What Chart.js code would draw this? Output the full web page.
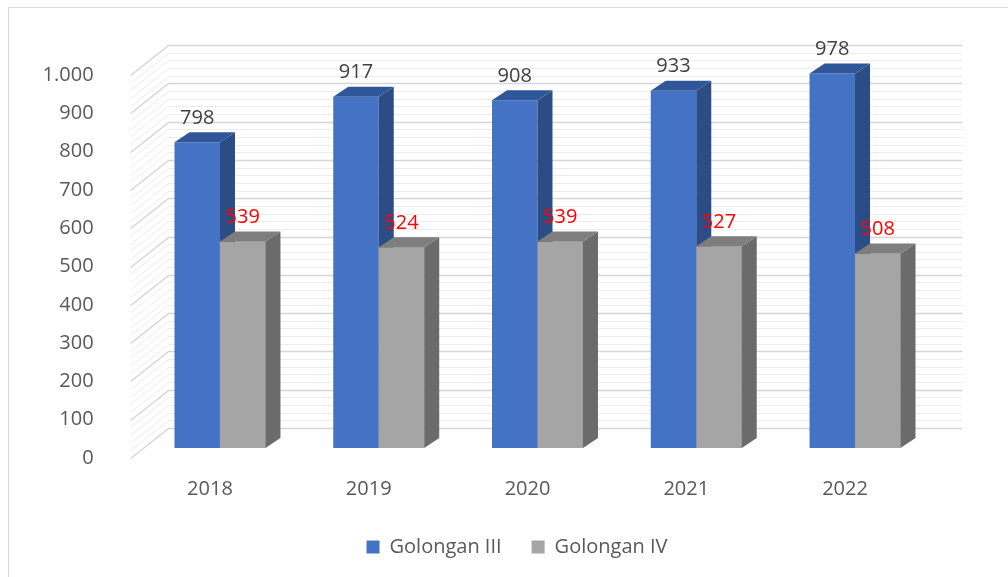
<!DOCTYPE html>
<html>
<head>
<meta charset="utf-8">
<script src="https://cdn.jsdelivr.net/npm/chart.js@4/dist/chart.umd.min.js"></script>
<style>
  body { margin: 0; background: #fff; overflow: hidden; }
  #frame { position: absolute; left: 8px; top: 7px; width: 1010px; height: 580px; border: 1px solid #d9d9d9; box-sizing: border-box; }
  #wrap { position: absolute; left: 0; top: 0; width: 1008px; height: 577px; }
</style>
</head>
<body>
<div id="frame"></div>
<div id="wrap"><canvas id="graph1"></canvas></div>
<script>
// data
const years = ['2018', '2019', '2020', '2021', '2022'];
const golonganIII = [798, 917, 908, 933, 978];
const golonganIV = [539, 524, 539, 527, 508];
const yTicks = [0, 100, 200, 300, 400, 500, 600, 700, 800, 900, 1000];

// 3d look
const WALL_DX = 38, WALL_DY = -30;   // back wall depth
const BAR_DX = 10, BAR_DY = -10;     // where bars stand in depth
const SIDE_DX = 15, SIDE_DY = -10;   // bar thickness
const faces = [
  { side: '#2c4c85', top: '#30569a' },
  { side: '#6b6b6b', top: '#7e7e7e' }
];
const labelColors = ['#404040', '#ff0000'];

function fmt(v) {
  return v >= 1000 ? Math.floor(v / 1000) + '.' + String(v % 1000).padStart(3, '0') : String(v);
}

function drawFaces(ctx, bar, f) {
  const p = bar.getProps(['x', 'y', 'base', 'width'], true);
  const l = p.x - p.width / 2, r = p.x + p.width / 2;
  ctx.fillStyle = f.side;
  ctx.beginPath();
  ctx.moveTo(r, p.y); ctx.lineTo(r + SIDE_DX, p.y + SIDE_DY);
  ctx.lineTo(r + SIDE_DX, p.base + SIDE_DY); ctx.lineTo(r, p.base);
  ctx.closePath(); ctx.fill();
  ctx.fillStyle = f.top;
  ctx.beginPath();
  ctx.moveTo(l, p.y); ctx.lineTo(l + SIDE_DX, p.y + SIDE_DY);
  ctx.lineTo(r + SIDE_DX, p.y + SIDE_DY); ctx.lineTo(r, p.y);
  ctx.closePath(); ctx.fill();
}

const walls = {
  id: 'walls',
  beforeDatasetsDraw(chart) {
    const ctx = chart.ctx, y = chart.scales.y, a = chart.chartArea;
    ctx.save();
    for (let v = 0; v <= 1000; v += 20) {
      const py = Math.round(y.getPixelForValue(v)) + 0.5;
      const major = v % 100 === 0;
      ctx.strokeStyle = major ? '#d6d6d6' : '#ececec';
      ctx.lineWidth = major ? 1.5 : 1;
      ctx.beginPath();
      ctx.moveTo(a.left, py);
      ctx.lineTo(a.left + WALL_DX, py + WALL_DY);
      ctx.lineTo(a.right + WALL_DX, py + WALL_DY);
      ctx.stroke();
    }
    ctx.restore();
    ctx.save();
    ctx.translate(BAR_DX, BAR_DY);
  },
  afterDatasetsDraw(chart) {
    const ctx = chart.ctx;
    const m0 = chart.getDatasetMeta(0), m1 = chart.getDatasetMeta(1);
    years.forEach((y, j) => {
      drawFaces(ctx, m0.data[j], faces[0]);
      m1.data[j].draw(ctx);
      drawFaces(ctx, m1.data[j], faces[1]);
    });
    ctx.restore();

    ctx.save();
    ctx.font = '20px "Open Sans"';
    ctx.textAlign = 'center';
    ctx.textBaseline = 'middle';
    chart.data.datasets.forEach((ds, i) => {
      chart.getDatasetMeta(i).data.forEach((bar, j) => {
        ctx.fillStyle = labelColors[i];
        ctx.fillText(ds.data[j], bar.x + BAR_DX, bar.y + BAR_DY - 24);
      });
    });
    ctx.restore();
  }
};

Chart.defaults.font.family = '"Open Sans"';
Chart.defaults.color = '#595959';

new Chart(document.getElementById('graph1'), {
  type: 'bar',
  data: {
    labels: years,
    datasets: [
      { label: 'Golongan III', data: golonganIII, backgroundColor: '#4472c4', clip: false },
      { label: 'Golongan IV', data: golonganIV, backgroundColor: '#a5a5a5', clip: false }
    ]
  },
  options: {
    responsive: true,
    maintainAspectRatio: false,
    animation: false,
    categoryPercentage: 0.573,
    barPercentage: 1,
    layout: { padding: { left: 26, right: 0, top: 75, bottom: 10 } },
    plugins: {
      tooltip: { enabled: false },
      legend: {
        position: 'bottom',
        labels: { boxWidth: 13, boxHeight: 13, padding: 30, font: { size: 20 }, color: '#595959' }
      }
    },
    scales: {
      x: {
        grid: { display: false },
        border: { display: false },
        ticks: { font: { size: 20 }, padding: 11 },
        afterFit(s) { s.height = 49; }
      },
      y: {
        min: 0, max: 1000,
        afterBuildTicks(s) { s.ticks = yTicks.map(v => ({ value: v })); },
        grid: { display: false },
        border: { display: false },
        ticks: { font: { size: 20 }, padding: 29, callback: v => fmt(v) },
        afterFit(s) { s.width = 104.6; }
      },
      yRight: {
        position: 'right',
        grid: { display: false },
        border: { display: false },
        ticks: { display: false },
        afterFit(s) { s.width = 83.6; }
      }
    }
  },
  plugins: [walls]
});
</script>
</body>
</html>
